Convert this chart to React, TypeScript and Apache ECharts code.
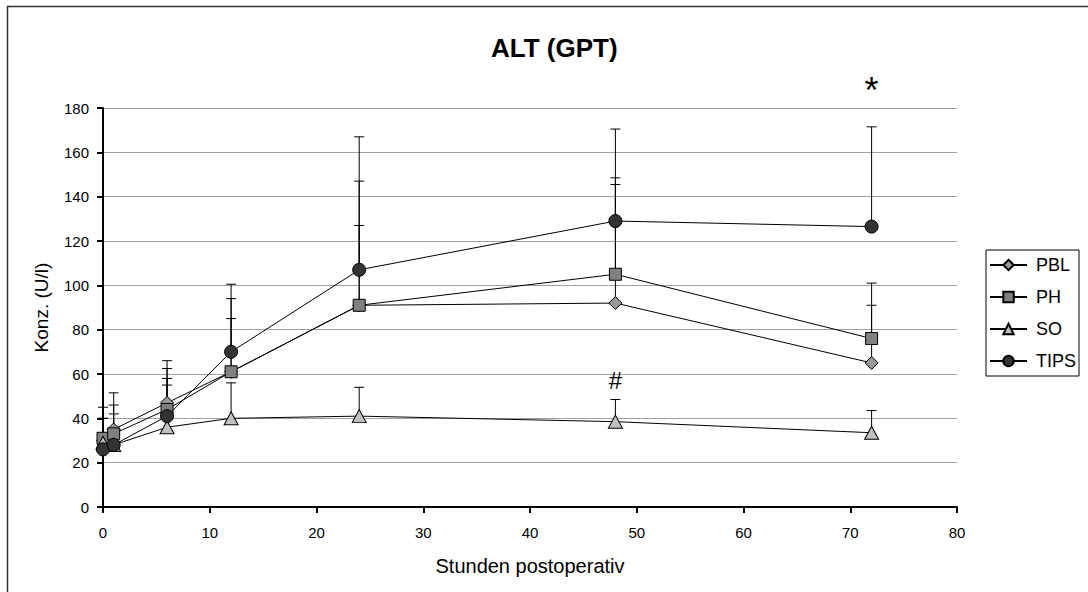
import React, { useEffect, useRef } from "react";
import * as echarts from "echarts";

const hours = [0, 1, 6, 12, 24, 48, 72];
const seriesNames = ["PBL", "PH", "SO", "TIPS"];
const pblMean = [30, 35, 47, 61, 91, 92, 65];
const phMean = [31, 33, 44, 61, 91, 105, 76];
const soMean = [29, 28, 36, 40, 41, 38.5, 33.5];
const tipsMean = [26, 28, 41, 70, 107, 129, 126.5];
const pblSd = [10, 11, 19, 24, 36, 53.5, 26];
const phSd = [14, 18.5, 18.5, 33, 56, 43.5, 25];
const soSd = [3, 3, 19, 16, 13, 10, 10];
const tipsSd = [14, 14, 17, 30.5, 60, 41.5, 45];
const annotations = [
  { hour: 72, value: 188, text: "*" },
  { hour: 48, value: 57, text: "#" },
];

const FONT = "'Liberation Sans', Arial, sans-serif";

const means = [pblMean, phMean, soMean, tipsMean];
const sds = [pblSd, phSd, soSd, tipsSd];
const symbols = ["diamond", "rect", "triangle", "circle"];
const symbolSizes: any[] = [13, 12, [14, 13], 13];
const fills = ["#999999", "#808080", "#c0c0c0", "#333333"];

export default function App() {
  const ref = useRef<HTMLDivElement>(null);
  useEffect(() => {
    if (!ref.current) return;
    const chart = echarts.init(ref.current, null, { renderer: "svg" });

    const errSeries = seriesNames.map((name, k) => ({
      type: "custom",
      name: name + "-err",
      silent: true,
      z: 1,
      clip: false,
      encode: { x: 0, y: 1 },
      data: hours.map((h, i) => [h, means[k][i], means[k][i] + sds[k][i]]),
      renderItem: (params: any, api: any) => {
        const x = api.value(0);
        const m = api.value(1);
        const u = api.value(2);
        const p0 = api.coord([x, m]);
        const p1 = api.coord([x, u]);
        const half = 5;
        return {
          type: "group",
          children: [
            {
              type: "line",
              shape: { x1: p0[0], y1: p0[1], x2: p1[0], y2: p1[1] },
              style: { stroke: "#000", lineWidth: 1 },
            },
            {
              type: "line",
              shape: { x1: p1[0] - half, y1: p1[1], x2: p1[0] + half, y2: p1[1] },
              style: { stroke: "#000", lineWidth: 1 },
            },
          ],
        };
      },
    }));

    const lineSeries = seriesNames.map((name, k) => ({
      type: "line",
      name,
      z: 3 + k,
      data: hours.map((h, i) => [h, means[k][i]]),
      symbol: symbols[k],
      symbolSize: symbolSizes[k],
      showAllSymbol: true,
      itemStyle: { color: fills[k], borderColor: "#000", borderWidth: 1 },
      lineStyle: { color: "#000", width: 1 },
      emphasis: { disabled: true },
    }));

    chart.setOption({
      animation: false,
      backgroundColor: "#fff",
      textStyle: { fontFamily: FONT },
      title: {
        text: "ALT (GPT)",
        left: 486,
        top: 30,
        textStyle: { fontFamily: FONT, fontSize: 26, fontWeight: "bold", color: "#000" },
      },
      legend: {
        orient: "vertical",
        left: 986,
        top: 250,
        data: seriesNames,
        itemWidth: 37,
        itemHeight: 13,
        itemGap: 14,
        padding: [6, 3, 6, 3],
        borderColor: "#000",
        borderWidth: 1,
        textStyle: { fontFamily: FONT, fontSize: 18, color: "#000", padding: [0, 0, 0, 4] },
      },
      grid: { left: 103, right: 131, top: 108, bottom: 85 },
      xAxis: {
        type: "value",
        min: 0,
        max: 80,
        interval: 10,
        name: "Stunden postoperativ",
        nameLocation: "middle",
        nameGap: 49,
        nameTextStyle: { fontFamily: FONT, fontSize: 20, color: "#000" },
        axisLine: { show: true, onZero: false, lineStyle: { color: "#000", width: 2 } },
        axisTick: { show: true, length: 6, lineStyle: { color: "#000", width: 2 } },
        axisLabel: { fontFamily: FONT, fontSize: 15, color: "#000", margin: 18 },
        splitLine: { show: false },
      },
      yAxis: {
        type: "value",
        min: 0,
        max: 180,
        interval: 20,
        name: "Konz. (U/l)",
        nameLocation: "middle",
        nameRotate: 90,
        nameGap: 52,
        nameTextStyle: { fontFamily: FONT, fontSize: 19, color: "#000" },
        axisLine: { show: true, lineStyle: { color: "#000", width: 2 } },
        axisTick: { show: true, length: 6, lineStyle: { color: "#000", width: 2 } },
        axisLabel: { fontFamily: FONT, fontSize: 15, color: "#000", margin: 14 },
        splitLine: { show: true, lineStyle: { color: "#a0a0a0", width: 1 } },
      },
      series: [...errSeries, ...lineSeries],
    });

    const annGraphics = annotations.map((a) => {
      const p = chart.convertToPixel({ gridIndex: 0 }, [a.hour, a.value]) as number[];
      return {
        type: "text",
        x: p[0],
        y: p[1],
        z: 10,
        style: {
          text: a.text,
          fontFamily: FONT,
          fontSize: a.text === "*" ? 36 : 24,
          fill: "#000",
          align: "center",
          verticalAlign: "middle",
        },
      };
    });

    chart.setOption({
      graphic: [
        {
          type: "rect",
          shape: { x: 7.5, y: 6.5, width: 1200, height: 700 },
          style: { fill: "none", stroke: "#333", lineWidth: 1.5 },
          z: 0,
        },
        ...annGraphics,
      ],
    });

    return () => chart.dispose();
  }, []);
  return (
    <div
      ref={ref}
      style={{ position: "absolute", left: 0, top: 0, width: 1088, height: 592 }}
    />
  );
}
